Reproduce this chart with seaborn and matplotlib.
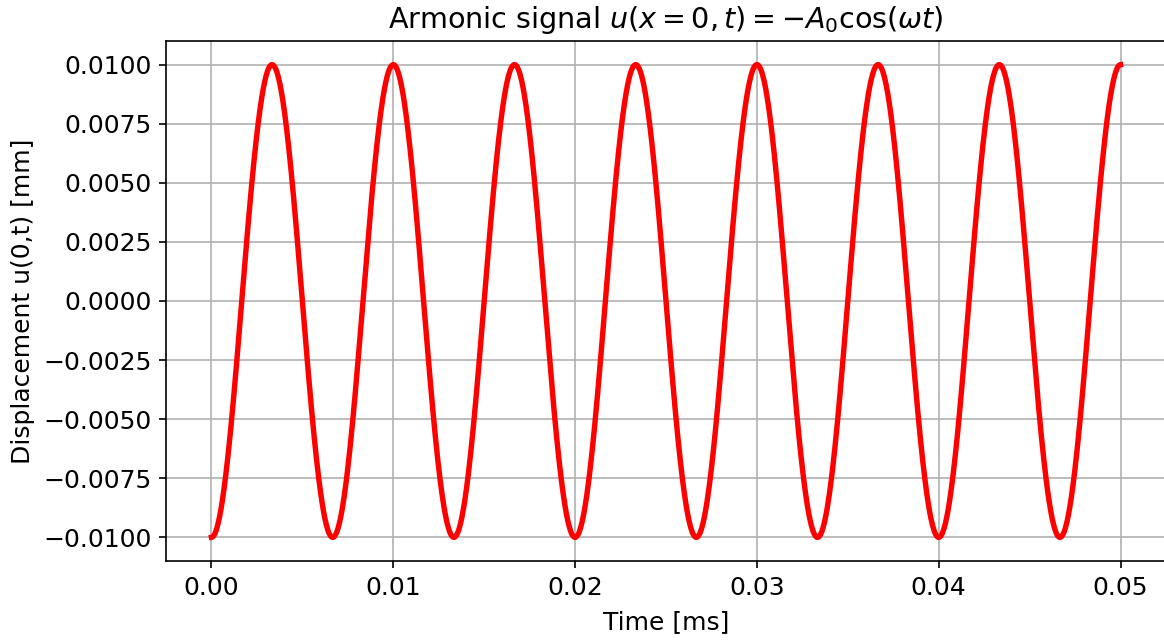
import numpy as np
import pandas as pd
import matplotlib
matplotlib.use("Agg")
import matplotlib.pyplot as plt
import seaborn as sns

# Signal parameters
A0 = 0.01            # amplitude [mm]
freq = 150.0         # cycles per ms
t_end = 0.05         # duration [ms]
n_samples = 2000

omega = 2 * np.pi * freq
t = np.linspace(0.0, t_end, n_samples)
u = -A0 * np.cos(omega * t)
df = pd.DataFrame({"t": t, "u": u})

plt.rcParams["font.size"] = 12

dpi = 150
fig = plt.figure(figsize=(1164 / dpi, 641 / dpi), dpi=dpi)
ax = fig.add_axes([166 / 1164, 1 - 561 / 641, 1000 / 1164, 520 / 641])

sns.lineplot(data=df, x="t", y="u", ax=ax, color="red", linewidth=2.6)

ax.set_xticks([0.0, 0.01, 0.02, 0.03, 0.04, 0.05])
ax.set_yticks(np.arange(-0.01, 0.01001, 0.0025))
ax.xaxis.set_major_formatter(matplotlib.ticker.FormatStrFormatter("%.2f"))
ax.yaxis.set_major_formatter(matplotlib.ticker.FuncFormatter(
    lambda v, p: ("%.4f" % v).replace("-", "\u2212") if abs(v) > 1e-12 else "0.0000"))
ax.grid(True)
ax.set_xlabel("Time [ms]", labelpad=5)
ax.set_ylabel("Displacement u(0,t) [mm]")
ax.set_title(r"Armonic signal $u(x=0,t) = -A_0\cos(\omega t)$", fontsize=13.75)

fig.savefig("out.png", dpi=dpi)
